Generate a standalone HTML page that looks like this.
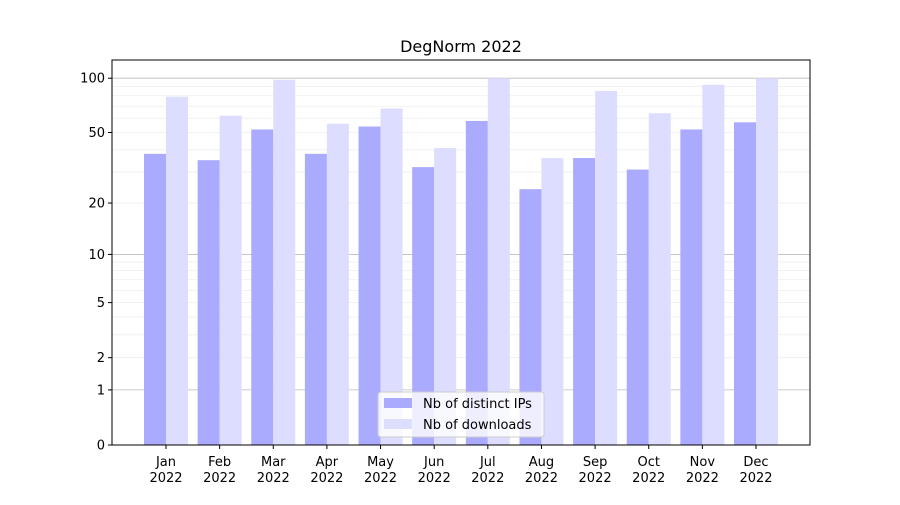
<!DOCTYPE html>
<html><head><meta charset="utf-8"><style>
body{margin:0;background:#fff;font-family:"Liberation Sans","DejaVu Sans",sans-serif}
svg text{font-family:"DejaVu Sans","Liberation Sans",sans-serif}
</style></head><body>
<svg id="c" width="900" height="500"></svg>
<script>
const categories=["Jan","Feb","Mar","Apr","May","Jun","Jul","Aug","Sep","Oct","Nov","Dec"];
const ipValues=[38,35,52,38,54,32,58,24,36,31,52,57];
const downloadValues=[79,62,98,56,68,41,100,36,85,64,92,100];
const yTicks=[0,1,2,5,10,20,50,100];
const L=112,R=810,T=60,B=445;
const NS="http://www.w3.org/2000/svg";
const svg=document.getElementById('c');
function y(v){return B-Math.log10(1+v)*183;}
function x(i){return 166+i*(756-166)/11;}
function el(t,a,p){const e=document.createElementNS(NS,t);for(const k in a)e.setAttribute(k,a[k]);(p||svg).appendChild(e);return e;}
const grid=el('g',{});


[1,10,100].forEach(d=>{for(let m=1;m<10;m++){const v=d*m;if(v>100)break;
el('line',{x1:L,x2:R,y1:y(v),y2:y(v),stroke:m==1?'#bbb':'#eee','stroke-width':m==1?0.8:0.8},grid);}});
const t=el('text',{x:461,y:52,'text-anchor':'middle','font-size':16});t.textContent="DegNorm 2022";


categories.forEach((c,i)=>{
 const a=el('rect',{x:x(i)-22,y:y(ipValues[i]),width:22,height:B-y(ipValues[i]),fill:'#aaaaff'});
 
 
 const b=el('rect',{x:x(i),y:y(downloadValues[i]),width:22,height:B-y(downloadValues[i]),fill:'#ddddff'});
 
 
 el('line',{x1:x(i),x2:x(i),y1:B,y2:B+4,stroke:'#000'});
 const l=el('text',{x:x(i),y:B+21,'text-anchor':'middle','font-size':13});
 l.textContent=c;
 
 
 const l2=el('text',{x:x(i),y:B+37,'text-anchor':'middle','font-size':13});
 l2.textContent="2022";
 
 
});
yTicks.forEach(v=>{
 el('line',{x1:L-4,x2:L,y1:y(v),y2:y(v),stroke:'#000'});
 const l=el('text',{x:L-7,y:y(v)+4.5,'text-anchor':'end','font-size':13});
 l.textContent=v;
 
 
});
const ax=el('rect',{x:L,y:T,width:R-L,height:B-T,fill:'none',stroke:'#000','stroke-width':1});


const lg=el('g',{});


el('rect',{x:378,y:392,width:166,height:45,rx:3,fill:'#fff','fill-opacity':0.8,stroke:'#ccc'},lg);
el('rect',{x:384,y:398,width:28,height:10,fill:'#aaaaff'},lg);
el('rect',{x:384,y:419,width:28,height:10,fill:'#ddddff'},lg);
const t1=el('text',{x:423,y:408,'font-size':13},lg);t1.textContent="Nb of distinct IPs";


const t2=el('text',{x:423,y:429,'font-size':13},lg);t2.textContent="Nb of downloads";


</script>
</body></html>
